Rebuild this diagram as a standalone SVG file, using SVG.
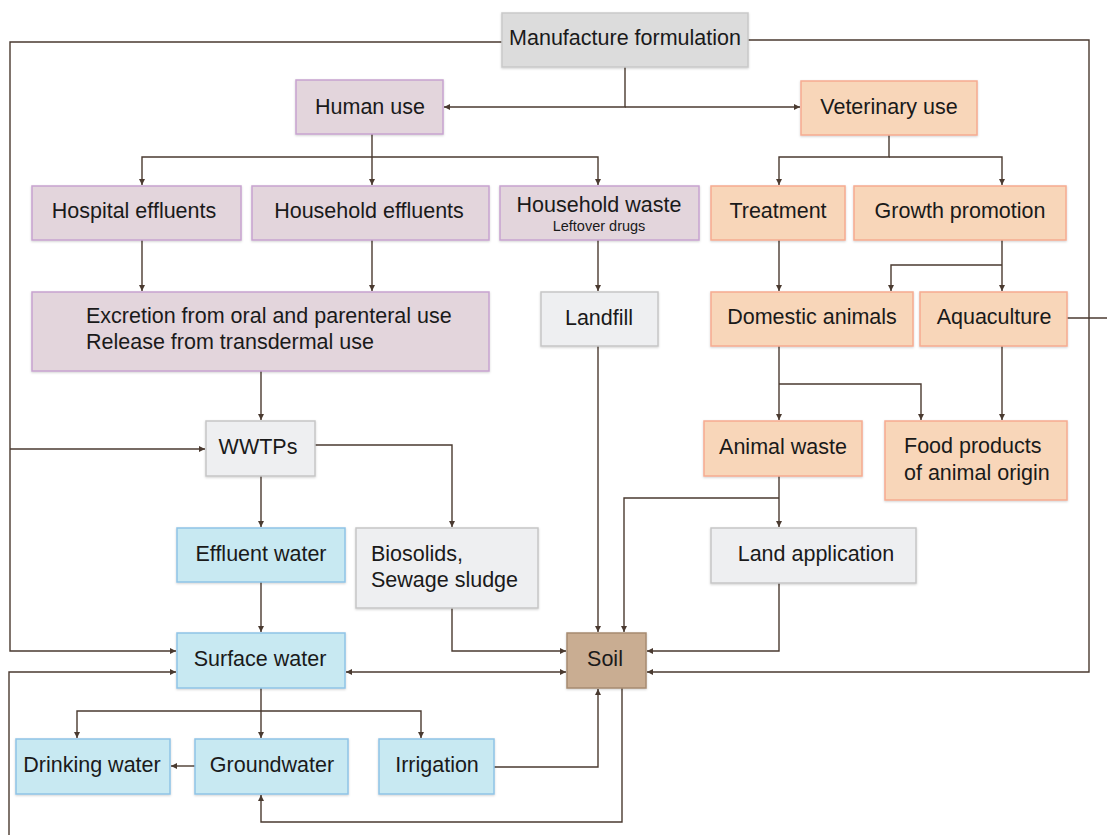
<svg xmlns="http://www.w3.org/2000/svg" width="1107" height="835" viewBox="0 0 1107 835">
<defs>
<marker id="ah" markerUnits="userSpaceOnUse" markerWidth="7" markerHeight="7" refX="6" refY="3" orient="auto-start-reverse">
<path d="M0,0 L6,3 L0,6 z" fill="#4a3a30"/>
</marker>
<filter id="sh" x="-5%" y="-5%" width="110%" height="120%">
<feDropShadow dx="0" dy="1" stdDeviation="1" flood-color="#000" flood-opacity="0.18"/>
</filter>
</defs>
<style>
rect{stroke-width:1.5;filter:url(#sh)}
.mf{fill:#dcdcdc;stroke:#c9c9c9}
.pu{fill:#e3d5dc;stroke:#c7a3d0}
.or{fill:#f8d6b9;stroke:#f6ab90}
.gr{fill:#eeeff1;stroke:#c6c6c6}
.bl{fill:#c8e9f2;stroke:#8fc3e6}
.so{fill:#c9ad92;stroke:#a68b70}
text{font-family:"Liberation Sans",Arial,sans-serif;font-size:21.5px;fill:#1a1a1a}
.c{text-anchor:middle}
.sm{font-size:14.5px}
#connectors path{fill:none;stroke:#4a3a30;stroke-width:1.4}
</style>
<g id="connectors">
<path d="M502,42 H10 V651 H176" marker-end="url(#ah)"/>
<path d="M10,449 H205" marker-end="url(#ah)"/>
<path d="M9,835 V672 H176" marker-end="url(#ah)"/>
<path d="M748,40 H1089 V672 H647" marker-end="url(#ah)"/>
<path d="M1067,318 H1107"/>
<path d="M625,67 V107 H444" marker-end="url(#ah)"/>
<path d="M625,107 H800" marker-end="url(#ah)"/>
<path d="M372,134 V185" marker-end="url(#ah)"/>
<path d="M372,157 H142 V185" marker-end="url(#ah)"/>
<path d="M372,157 H598 V185" marker-end="url(#ah)"/>
<path d="M889,135 V157 H779 V185" marker-end="url(#ah)"/>
<path d="M889,157 H1002 V185" marker-end="url(#ah)"/>
<path d="M142,240 V291" marker-end="url(#ah)"/>
<path d="M372,240 V291" marker-end="url(#ah)"/>
<path d="M598,240 V291" marker-end="url(#ah)"/>
<path d="M779,240 V291" marker-end="url(#ah)"/>
<path d="M1002,240 V291" marker-end="url(#ah)"/>
<path d="M1002,265 H891 V291" marker-end="url(#ah)"/>
<path d="M261,371 V420" marker-end="url(#ah)"/>
<path d="M315,445 H452 V527" marker-end="url(#ah)"/>
<path d="M261,476 V527" marker-end="url(#ah)"/>
<path d="M261,582 V632" marker-end="url(#ah)"/>
<path d="M452,608 V651 H566" marker-end="url(#ah)"/>
<path d="M346,672 H566" marker-start="url(#ah)" marker-end="url(#ah)"/>
<path d="M598,346 V632" marker-end="url(#ah)"/>
<path d="M779,346 V420" marker-end="url(#ah)"/>
<path d="M779,384 H921 V420" marker-end="url(#ah)"/>
<path d="M1002,346 V420" marker-end="url(#ah)"/>
<path d="M779,476 V527" marker-end="url(#ah)"/>
<path d="M779,498 H624 V632" marker-end="url(#ah)"/>
<path d="M779,583 V651 H647" marker-end="url(#ah)"/>
<path d="M261,688 V738" marker-end="url(#ah)"/>
<path d="M261,711 H77 V738" marker-end="url(#ah)"/>
<path d="M261,711 H421 V738" marker-end="url(#ah)"/>
<path d="M195,766 H171" marker-end="url(#ah)"/>
<path d="M494,767 H598 V689" marker-end="url(#ah)"/>
<path d="M622,688 V822 H261 V795" marker-end="url(#ah)"/>
</g>
<g id="manufacture"><rect class="mf" x="502" y="13" width="246" height="54"/><text class="c" x="625" y="45">Manufacture formulation</text></g>
<g id="human-use"><rect class="pu" x="296" y="80" width="147" height="54"/><text class="c" x="370" y="114">Human use</text></g>
<g id="veterinary-use"><rect class="or" x="801" y="81" width="176" height="54"/><text class="c" x="889" y="114">Veterinary use</text></g>
<g id="hospital-effluents"><rect class="pu" x="32" y="186" width="209" height="54"/><text class="c" x="134" y="218">Hospital effluents</text></g>
<g id="household-effluents"><rect class="pu" x="252" y="186" width="237" height="54"/><text class="c" x="369" y="218">Household effluents</text></g>
<g id="household-waste"><rect class="pu" x="500" y="186" width="199" height="54"/><text class="c" x="599" y="212">Household waste</text><text class="c sm" x="599" y="231">Leftover drugs</text></g>
<g id="treatment"><rect class="or" x="711" y="186" width="134" height="54"/><text class="c" x="778" y="218">Treatment</text></g>
<g id="growth-promotion"><rect class="or" x="854" y="186" width="212" height="54"/><text class="c" x="960" y="218">Growth promotion</text></g>
<g id="excretion"><rect class="pu" x="32" y="292" width="457" height="79"/><text x="86" y="323">Excretion from oral and parenteral use</text><text x="86" y="349">Release from transdermal use</text></g>
<g id="landfill"><rect class="gr" x="541" y="292" width="117" height="54"/><text class="c" x="599" y="325">Landfill</text></g>
<g id="domestic-animals"><rect class="or" x="711" y="292" width="202" height="54"/><text class="c" x="812" y="324">Domestic animals</text></g>
<g id="aquaculture"><rect class="or" x="920" y="292" width="147" height="54"/><text class="c" x="994" y="324">Aquaculture</text></g>
<g id="wwtps"><rect class="gr" x="206" y="421" width="109" height="55"/><text class="c" x="258" y="454">WWTPs</text></g>
<g id="animal-waste"><rect class="or" x="704" y="421" width="158" height="55"/><text class="c" x="783" y="454">Animal waste</text></g>
<g id="food-products"><rect class="or" x="885" y="421" width="182" height="79"/><text x="904" y="453">Food products</text><text x="904" y="480">of animal origin</text></g>
<g id="effluent-water"><rect class="bl" x="177" y="528" width="168" height="54"/><text class="c" x="261" y="561">Effluent water</text></g>
<g id="biosolids"><rect class="gr" x="356" y="528" width="182" height="80"/><text x="371" y="561">Biosolids,</text><text x="371" y="587">Sewage sludge</text></g>
<g id="land-application"><rect class="gr" x="711" y="528" width="205" height="55"/><text class="c" x="816" y="561">Land application</text></g>
<g id="surface-water"><rect class="bl" x="177" y="633" width="168" height="55"/><text class="c" x="260" y="666">Surface water</text></g>
<g id="soil"><rect class="so" x="567" y="633" width="79" height="55"/><text class="c" x="605" y="666">Soil</text></g>
<g id="drinking-water"><rect class="bl" x="16" y="739" width="154" height="55"/><text class="c" x="92" y="772">Drinking water</text></g>
<g id="groundwater"><rect class="bl" x="195" y="739" width="153" height="55"/><text class="c" x="272" y="772">Groundwater</text></g>
<g id="irrigation"><rect class="bl" x="379" y="739" width="115" height="55"/><text class="c" x="437" y="772">Irrigation</text></g>
</svg>
